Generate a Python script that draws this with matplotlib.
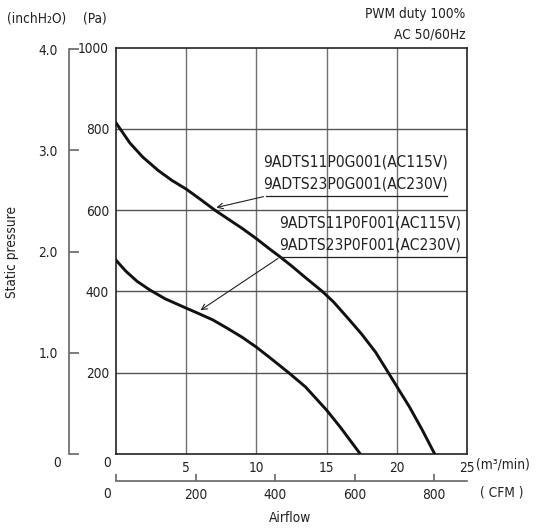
import matplotlib.pyplot as plt

plt.rcParams['font.family'] = ['DejaVu Sans']
plt.rcParams['font.stretch'] = 'condensed'

# 9ADTS..P0G001 (upper curve)
q_g = [0, 0.5, 1, 1.9, 3, 4, 5, 6, 7.05, 8, 9, 10, 11, 11.7, 12.5, 13.5,
       14.7, 15.5, 16.5, 17.5, 18.5, 19.4, 20.2, 20.9, 21.8, 22.7]
p_g = [815, 790, 765, 731, 698, 673, 652, 627, 600, 578, 555, 530, 503, 485,
       463, 434, 400, 374, 335, 295, 250, 200, 155, 116, 60, 0]
# 9ADTS..P0F001 (lower curve)
q_f = [0, 0.7, 1.5, 2.4, 3.5, 5, 6, 6.9, 8, 9, 10, 11, 12.3, 13.5, 15, 16, 17.4]
p_f = [477, 450, 425, 404, 382, 359, 344, 330, 308, 287, 263, 236, 200, 165,
       108, 65, 0]

x_ticks = [0, 5, 10, 15, 20, 25]
pa_ticks = [200, 400, 600, 800, 1000]
inch_ticks = [1.0, 2.0, 3.0, 4.0]
cfm_ticks = [0, 200, 400, 600, 800]

label_g = "9ADTS11P0G001(AC115V)\n9ADTS23P0G001(AC230V)"
label_f = "9ADTS11P0F001(AC115V)\n9ADTS23P0F001(AC230V)"

PA_PER_INCH = 249.09
CFM_PER_M3 = 35.315
FS = 9.8

W, H = 537, 528
fig = plt.figure(figsize=(W / 100, H / 100), dpi=100)


def box(x0, y0, x1, y1):
    return [x0 / W, 1 - y1 / H, (x1 - x0) / W, (y1 - y0) / H]


ax = fig.add_axes(box(116, 47.7, 467, 454))
ax.set_xlim(0, 25)
ax.set_ylim(0, 1000)
for s in ax.spines.values():
    s.set_linewidth(1.2)
    s.set_color('#222222')

ax.set_xticks(x_ticks)
ax.set_xticklabels([''] + [str(t) for t in x_ticks[1:]])
ax.set_yticks(pa_ticks)
ax.tick_params(axis='both', length=0, labelsize=FS, colors='#222222')
ax.tick_params(axis='x', pad=5)
ax.tick_params(axis='y', pad=5)

for t in [5, 10, 15, 20]:
    ax.axvline(t, color='#707070', lw=1.0, zorder=1)
for p in [200, 400, 600, 800]:
    ax.axhline(p, color='#555555', lw=1.0, zorder=1)

ax.plot(q_g, p_g, color='#111111', lw=2.1, zorder=3)
ax.plot(q_f, p_f, color='#111111', lw=2.1, zorder=3)

# leader lines + labels
ax.annotate('', xy=(6.95, 605), xytext=(10.7, 635),
            arrowprops=dict(arrowstyle='->', color='#222222', lw=0.8), zorder=4)
ax.plot([10.7, 23.6], [635, 635], color='#222222', lw=0.9, zorder=4)
ax.text(10.45, 647, label_g, fontsize=11.2, va='bottom', ha='left',
        linespacing=1.55, color='#222222')

ax.annotate('', xy=(5.85, 350), xytext=(11.7, 485),
            arrowprops=dict(arrowstyle='->', color='#222222', lw=0.8), zorder=4)
ax.plot([11.7, 25], [485, 485], color='#222222', lw=0.9, zorder=4)
ax.text(11.6, 496, label_f, fontsize=11.2, va='bottom', ha='left',
        linespacing=1.55, color='#222222')

# inchH2O axis
ax_in = fig.add_axes(box(69, 47.7, 70, 454))
ax_in.set_ylim(0, 1000 / PA_PER_INCH)
ax_in.set_xticks([])
for k in ['top', 'right', 'bottom']:
    ax_in.spines[k].set_visible(False)
ax_in.spines['left'].set_linewidth(1.2)
ax_in.spines['left'].set_color('#666666')
ax_in.spines['left'].set_bounds(0, 4.0)
ax_in.patch.set_visible(False)
ax_in.set_yticks([0] + inch_ticks)
ax_in.set_yticklabels([''] + ['%.1f' % v for v in inch_ticks])
ax_in.tick_params(axis='y', direction='in', length=7, width=1.2,
                  color='#666666', labelsize=FS, pad=8, labelcolor='#222222')

# CFM axis
ax_cfm = fig.add_axes(box(116, 470, 467, 481))
ax_cfm.set_xlim(0, 25 * CFM_PER_M3)
ax_cfm.set_yticks([])
for k in ['top', 'right', 'left']:
    ax_cfm.spines[k].set_visible(False)
ax_cfm.spines['bottom'].set_linewidth(1.2)
ax_cfm.spines['bottom'].set_color('#666666')
ax_cfm.patch.set_visible(False)
ax_cfm.set_xticks(cfm_ticks)
ax_cfm.set_xticklabels([''] + [str(v) for v in cfm_ticks[1:]])
ax_cfm.tick_params(axis='x', direction='in', length=5, width=1.2,
                   color='#666666', labelsize=FS, pad=5, labelcolor='#222222')


# loose texts
def ftext(x, y, s, **kw):
    kw.setdefault('fontsize', FS)
    kw.setdefault('color', '#222222')
    fig.text(x / W, 1 - y / H, s, **kw)


ftext(107, 463, '0', ha='center', va='center')
ftext(107, 494, '0', ha='center', va='center')
ftext(57, 463, '0', ha='center', va='center')
ftext(476, 464, '(m³/min)', ha='left', va='center')
ftext(480, 493, '( CFM )', ha='left', va='center')
ftext(290, 518, 'Airflow', ha='center', va='center')
ftext(12, 252, 'Static pressure', ha='center', va='center', rotation=90)
ftext(7, 19, '(inchH₂O)', ha='left', va='center')
ftext(83, 19, '(Pa)', ha='left', va='center')
ftext(465, 14, 'PWM duty 100%', ha='right', va='center')
ftext(465, 35, 'AC 50/60Hz', ha='right', va='center')

fig.savefig('out.png', dpi=100)
